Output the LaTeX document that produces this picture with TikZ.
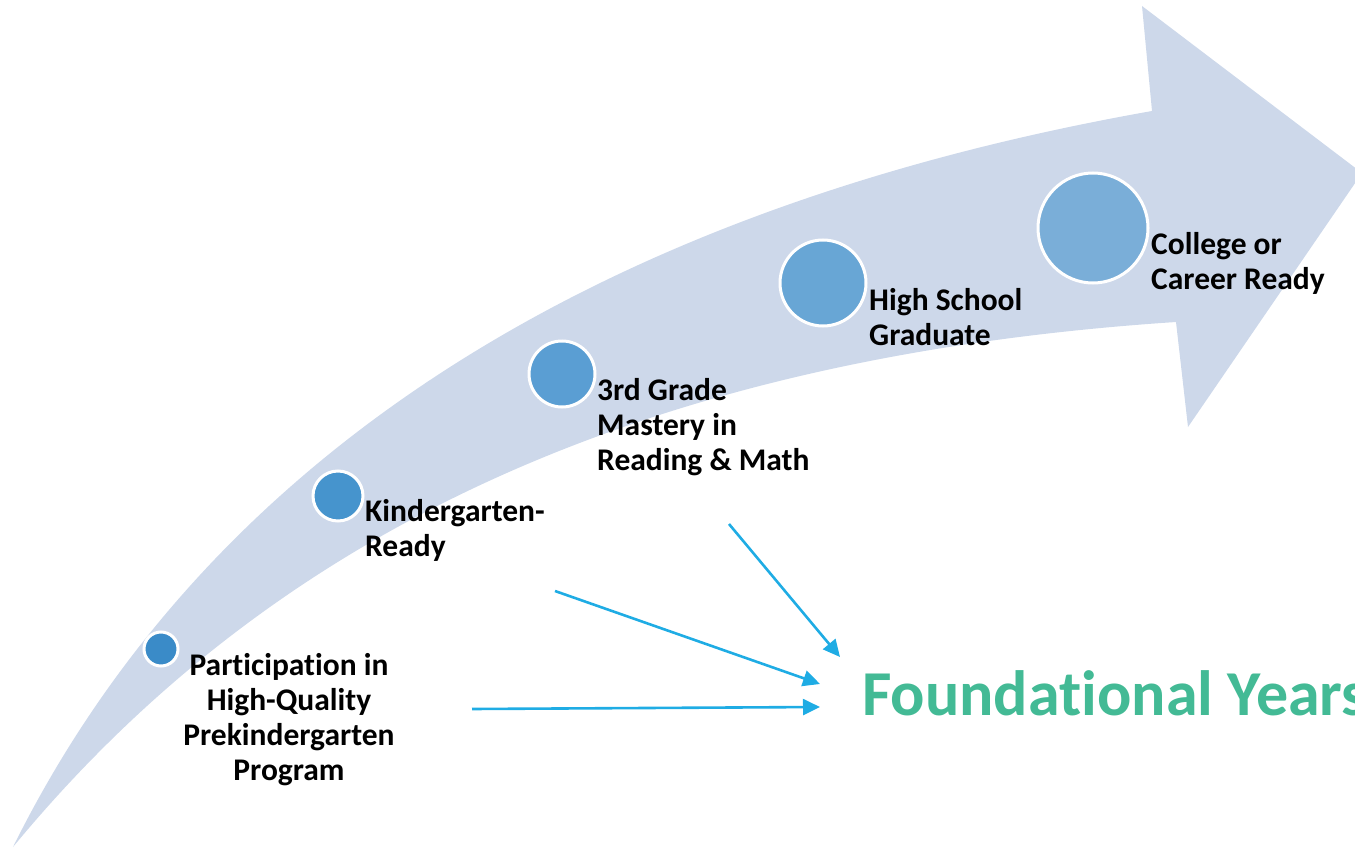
\documentclass[tikz,border=0pt]{standalone}
\usepackage{fontspec}
\setmainfont{Carlito}[Ligatures=NoCommon]
\usetikzlibrary{arrows.meta}
\definecolor{bandblue}{HTML}{CDD8EA}
\definecolor{cA}{HTML}{3A8BC8}
\definecolor{cB}{HTML}{4694CD}
\definecolor{cC}{HTML}{5A9ED3}
\definecolor{cD}{HTML}{68A6D5}
\definecolor{cE}{HTML}{7AAED8}
\definecolor{arrowcyan}{HTML}{1FACE4}
\definecolor{fgreen}{HTML}{43BA95}
\tikzset{
  dot/.style={circle, draw=white, line width=3pt, inner sep=0pt},
  lbl/.style={font=\fontsize{31.5}{35}\selectfont\bfseries, inner sep=0pt, align=left, anchor=base west},
  feed/.style={draw=arrowcyan, line width=2.6pt, -{Triangle[length=17pt,width=16pt]}}
}
\begin{document}
\begin{tikzpicture}[x=1pt,y=-1pt]
\useasboundingbox (0,0) rectangle (1355,848);
\clip (0,0) rectangle (1355,848);
% curved arrow band
\fill[bandblue] (13,847) .. controls (185,500) and (535,220) .. (1152,111)
  -- (1142,6) -- (1362,173) -- (1188,427) -- (1176,322)
  .. controls (600,360) and (250,560) .. (13,847) -- cycle;
% milestones
\node[dot, fill=cA, minimum size=34pt] (c1) at (161,649) {};
\node[dot, fill=cB, minimum size=50pt] (c2) at (338,496) {};
\node[dot, fill=cC, minimum size=66pt] (c3) at (562,374) {};
\node[dot, fill=cD, minimum size=86pt] (c4) at (823,283) {};
\node[dot, fill=cE, minimum size=110pt] (c5) at (1093,228) {};
% labels (anchor = baseline of last line)
\node[lbl, align=center, anchor=base] (t1) at (289,780) {Participation in\\High-Quality\\Prekindergarten\\Program};
\node[lbl] (t2) at (365,556) {Kindergarten-\\Ready};
\node[lbl] (t3) at (597,470) {3rd Grade\\Mastery in\\Reading \& Math};
\node[lbl] (t4) at (869,345) {High School\\Graduate};
\node[lbl] (t5) at (1151,289) {College or\\Career Ready};
\node[font=\fontsize{64}{74}\selectfont\bfseries, text=fgreen, inner sep=0pt, anchor=base west] (fy) at (862,715) {Foundational Years};
% feeding arrows
\coordinate (s1) at (472,709);
\coordinate (s2) at (555,591);
\coordinate (s3) at (729,524);
\coordinate (e1) at (820,707);
\coordinate (e2) at (820,684);
\coordinate (e3) at (840,657);
\draw[feed] (s1) -- (e1);
\draw[feed] (s2) -- (e2);
\draw[feed] (s3) -- (e3);
\end{tikzpicture}
\end{document}
